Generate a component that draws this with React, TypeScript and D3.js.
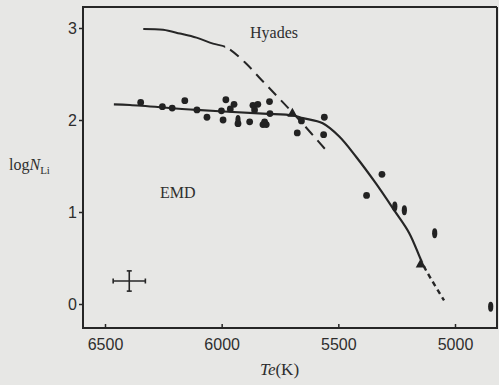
import { useEffect, useRef } from "react";
import * as d3 from "d3";

const starTe = [6347, 6254, 6212, 6158, 6106, 6063, 6001, 5982, 5947, 5963, 5994, 5930, 5930, 5880, 5866, 5845, 5859, 5795, 5793, 5823, 5809, 5816, 5697, 5658, 5676, 5560, 5563, 5379, 5313, 5258, 5217, 5087, 5147, 4847];
const starLogN = [2.19, 2.145, 2.13, 2.21, 2.11, 2.03, 2.1, 2.22, 2.17, 2.12, 2.0, 2.0, 1.96, 1.98, 2.16, 2.17, 2.11, 2.2, 2.07, 1.95, 1.95, 1.98, 2.08, 1.99, 1.86, 2.03, 1.84, 1.18, 1.41, 1.06, 1.02, 0.77, 0.44, -0.03];
// c = dot, e = elongated dot, t = triangle
const starKind = ["c", "c", "c", "c", "c", "c", "c", "c", "c", "c", "c", "e", "c", "c", "c", "c", "c", "c", "c", "c", "c", "c", "t", "c", "c", "c", "c", "c", "c", "e", "e", "e", "t", "e"];

// EMD curve (solid down to ~5145 K, dashed beyond)
const emdTe = [6462, 6393, 6108, 5823, 5695, 5652, 5567, 5496, 5424, 5339, 5261, 5196, 5146, 5125, 5047];
const emdLogN = [2.17, 2.163, 2.11, 2.07, 2.05, 2.02, 1.964, 1.82, 1.6, 1.31, 1.02, 0.77, 0.48, 0.37, 0.04];
const emdDashFrom = 5140;

// Hyades curve (solid down to ~5980 K, dashed beyond)
const hyaTe = [6336, 6251, 6179, 6108, 6037, 5980, 5902, 5829, 5752, 5667, 5552];
const hyaLogN = [2.99, 2.98, 2.94, 2.895, 2.83, 2.79, 2.63, 2.435, 2.23, 2.0, 1.67];
const hyaDashFrom = 5985;

const xTicks = [6500, 6000, 5500, 5000];
const yTicks = [0, 1, 2, 3];

// typical error cross
const errTe = 6396, errLogN = 0.25, errDTe = 69, errDLogN = 0.11;

const W = 499, H = 385;
const INK = "#262626";

export default function App() {
  const ref = useRef<SVGSVGElement>(null);

  useEffect(() => {
    if (!ref.current) return;
    const svg = d3.select(ref.current);
    svg.selectAll("*").remove();

    const x = d3.scaleLinear().domain([6500, 5000]).range([105, 455]);
    const y = d3.scaleLinear().domain([0, 3]).range([304, 28]);
    const left = 83, right = 497, top = 7, bottom = 328;

    svg.append("rect").attr("width", W).attr("height", H).attr("fill", "#e7e7e5");

    // frame
    svg.append("path")
      .attr("d", `M${right},${top} L${left},${top} L${left},${bottom} L${right},${bottom} L${right},${top}`)
      .attr("fill", "none").attr("stroke", INK).attr("stroke-width", 2);

    // ticks
    const yAxis = d3.axisLeft(y).tickValues(yTicks).tickSize(4).tickFormat(d3.format("d"));
    const ga = svg.append("g").attr("transform", `translate(${left},0)`).call(yAxis);
    ga.select(".domain").remove();
    ga.selectAll("line").attr("stroke", INK).attr("stroke-width", 1.5);
    ga.selectAll("text").attr("fill", "#2e2e2e").attr("font-size", 16)
      .attr("font-family", "Liberation Sans, sans-serif").attr("x", -6).attr("dy", "0.35em");

    const xAxis = d3.axisTop(x).tickValues(xTicks).tickSize(4).tickFormat(d3.format("d"));
    const gb = svg.append("g").attr("transform", `translate(0,${bottom})`).call(xAxis);
    gb.select(".domain").remove();
    gb.selectAll("line").attr("stroke", INK).attr("stroke-width", 1.5);
    gb.selectAll("text").attr("fill", "#2e2e2e").attr("font-size", 16)
      .attr("font-family", "Liberation Sans, sans-serif").attr("y", 22).attr("dy", 0);

    const line = d3.line<[number, number]>().x(d => x(d[0])).y(d => y(d[1])).curve(d3.curveCatmullRom.alpha(0.5));
    const pts = (a: number[], b: number[]) => a.map((v, i) => [v, b[i]] as [number, number]);

    const defs = svg.append("defs");
    const clip = (id: string, x0: number, x1: number) =>
      defs.append("clipPath").attr("id", id).append("rect").attr("x", x0).attr("y", 0).attr("width", x1 - x0).attr("height", H);
    clip("emd-solid", 0, x(emdDashFrom));
    clip("emd-dash", x(emdDashFrom), W);
    clip("hya-solid", 0, x(hyaDashFrom));
    clip("hya-dash", x(hyaDashFrom), W);

    const emdD = line(pts(emdTe, emdLogN))!;
    const hyaD = line(pts(hyaTe, hyaLogN))!;
    svg.append("path").attr("d", emdD).attr("clip-path", "url(#emd-solid)")
      .attr("fill", "none").attr("stroke", INK).attr("stroke-width", 2.2);
    svg.append("path").attr("d", emdD).attr("clip-path", "url(#emd-dash)")
      .attr("fill", "none").attr("stroke", INK).attr("stroke-width", 2.4).attr("stroke-dasharray", "5 4");
    svg.append("path").attr("d", hyaD).attr("clip-path", "url(#hya-solid)")
      .attr("fill", "none").attr("stroke", INK).attr("stroke-width", 2);
    svg.append("path").attr("d", hyaD).attr("clip-path", "url(#hya-dash)")
      .attr("fill", "none").attr("stroke", INK).attr("stroke-width", 2).attr("stroke-dasharray", "11 7");

    // stars
    const g = svg.append("g").attr("fill", "#222");
    starTe.forEach((t, i) => {
      const cx = x(t), cy = y(starLogN[i]), k = starKind[i];
      if (k === "c") g.append("circle").attr("cx", cx).attr("cy", cy).attr("r", 3.4);
      else if (k === "e") g.append("ellipse").attr("cx", cx).attr("cy", cy).attr("rx", 2.6).attr("ry", 5);
      else g.append("path").attr("d", `M${cx},${cy - 5} L${cx + 5},${cy + 4} L${cx - 5},${cy + 4} Z`);
    });

    // error cross
    const eg = svg.append("g").attr("stroke", INK).attr("stroke-width", 1.6);
    const ex0 = x(errTe - errDTe), ex1 = x(errTe + errDTe), ey0 = y(errLogN - errDLogN), ey1 = y(errLogN + errDLogN);
    const ex = x(errTe), ey = y(errLogN);
    eg.append("line").attr("x1", ex0).attr("x2", ex1).attr("y1", ey).attr("y2", ey);
    eg.append("line").attr("x1", ex).attr("x2", ex).attr("y1", ey0).attr("y2", ey1);
    [ex0, ex1].forEach(v => eg.append("line").attr("x1", v).attr("x2", v).attr("y1", ey - 2.5).attr("y2", ey + 2.5));
    [ey0, ey1].forEach(v => eg.append("line").attr("y1", v).attr("y2", v).attr("x1", ex - 2.5).attr("x2", ex + 2.5));

    const serif = "Liberation Serif, serif";
    svg.append("text").attr("x", 250).attr("y", 38).attr("font-family", serif).attr("font-size", 16)
      .attr("fill", "#2e2e2e").text("Hyades");
    svg.append("text").attr("x", 160).attr("y", 198).attr("font-family", serif).attr("font-size", 16)
      .attr("fill", "#2e2e2e").text("EMD");

    const yl = svg.append("text").attr("x", 9).attr("y", 170).attr("font-family", serif).attr("font-size", 16).attr("fill", "#2e2e2e");
    yl.append("tspan").text("log");
    yl.append("tspan").attr("font-style", "italic").text("N");
    yl.append("tspan").attr("font-size", 11).attr("dy", 4).text("Li");

    const xl = svg.append("text").attr("x", 260).attr("y", 375).attr("font-family", serif).attr("font-size", 17).attr("fill", "#2e2e2e");
    xl.append("tspan").attr("font-style", "italic").text("Te");
    xl.append("tspan").text("(K)");
  }, []);

  return (
    <div style={{ position: "absolute", left: 0, top: 0, width: W, height: H }}>
      <svg ref={ref} width={W} height={H} />
    </div>
  );
}
